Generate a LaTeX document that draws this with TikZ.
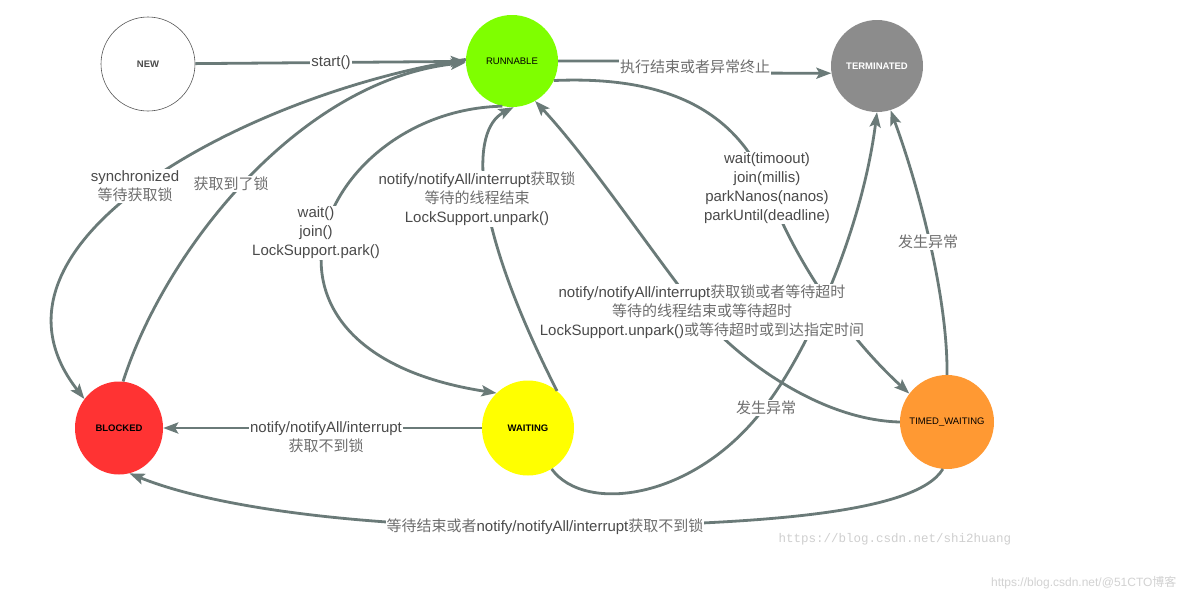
\documentclass[tikz,border=0pt]{standalone}
\usepackage{fontspec}
\setmainfont{Liberation Sans}
\newfontfamily\cjk{Noto Sans CJK SC}
\newfontfamily\wmono{Liberation Mono}
\usetikzlibrary{arrows.meta,shapes.geometric}
\definecolor{edgec}{HTML}{6A7A78}
\definecolor{labc}{HTML}{4A4A4A}
\definecolor{zhc}{HTML}{6E6E6E}
\definecolor{newborder}{HTML}{555555}
\definecolor{runc}{RGB}{127,255,0}
\definecolor{termc}{RGB}{140,140,140}
\definecolor{blockc}{RGB}{255,51,51}
\definecolor{waitc}{RGB}{255,255,0}
\definecolor{timedc}{RGB}{255,153,51}
\definecolor{wmone}{HTML}{CFCFCF}
\definecolor{wmtwo}{HTML}{D2D2D2}
\newcommand\zhtxt[1]{{\cjk\color{zhc}#1}}
\begin{document}
\begin{tikzpicture}[x=1pt,y=-1pt,
  state/.style={circle, minimum size=92pt, inner sep=0pt, text=black,
    font=\fontsize{9.5}{11}\selectfont},
  edge/.style={draw=edgec, line width=2.8pt,
    -{Stealth[length=15pt,width=11pt,inset=3pt]}},
  lab/.style={fill=white, inner sep=1pt, align=center, text=labc,
    font=\fontsize{15}{19}\selectfont},
]
\useasboundingbox (0,0) rectangle (1184,598);
\fill[white] (0,0) rectangle (1184,598);

% states
\node[state, draw=newborder, line width=0.6pt, fill=white, minimum size=94pt,
  text=labc, font=\fontsize{9.5}{11}\selectfont\bfseries] (new) at (148,64) {NEW};
\node[state, fill=runc] (runnable) at (512,61) {RUNNABLE};
\node[state, fill=termc, text=white, font=\fontsize{9.5}{11}\selectfont\bfseries] (terminated) at (877,66) {TERMINATED};
\node[state, ellipse, fill=blockc, minimum width=88pt, minimum height=93pt,
  font=\fontsize{9.5}{11}\selectfont\bfseries] (blocked) at (119,428) {BLOCKED};
\node[state, ellipse, fill=waitc, minimum width=92pt, minimum height=95pt,
  font=\fontsize{9.5}{11}\selectfont\bfseries] (waiting) at (528,428) {WAITING};
\node[state, fill=timedc, minimum size=94pt] (timed) at (947,422) {TIMED\_WAITING};

% connectors
\draw[edge] (new) -- (runnable);
\draw[edge] (runnable.east) -- (695,61) -- (695,73) -- (terminated.189);
\draw[edge] (blocked.85) .. controls (165,250) and (300,80) .. (runnable.182);
\draw[edge] (runnable.178) .. controls (260,90) and (-40,240) .. (blocked.140);
\draw[edge] (runnable.258) .. controls (320,110) and (215,350) .. (waiting.132);
\draw[edge] (waiting.52) .. controls (470,220) and (470,130) .. (runnable.272);
\draw[edge] (runnable.-25) .. controls (680,75) and (740,120) .. (768,188)
  .. controls (790,250) and (840,330) .. (timed.143);
\draw[edge] (timed.180) .. controls (820,420) and (740,360) .. (702,316)
  .. controls (650,250) and (590,160) .. (runnable.300);
\draw[edge] (waiting.-60) .. controls (585,515) and (700,500) .. (770,400)
  .. controls (810,345) and (862,230) .. (terminated.270);
\draw[edge] (timed.90) .. controls (948,300) and (920,190) .. (terminated.-73);
\draw[edge] (waiting) -- (blocked);
\draw[edge] (timed.265) .. controls (915,515) and (750,525) .. (545,527)
  .. controls (380,528) and (220,510) .. (blocked.-77);

% labels
\node[lab] (lstart) at (331,63) {start()};
\node[lab] (lterm) at (695,67) {\zhtxt{执行结束或者异常终止}};
\node[lab] (lsync) at (135,186) {synchronized\\\zhtxt{等待获取锁}};
\node[lab] (lgot) at (231,184) {\zhtxt{获取到了锁}};
\node[lab] (lwait) at (316,233) {wait()\\join()\\LockSupport.park()};
\node[lab] (lnotify) at (477,199) {notify/notifyAll/interrupt\zhtxt{获取锁}\\\zhtxt{等待的线程结束}\\LockSupport.unpark()};
\node[lab] (ltwait) at (767,188) {wait(timoout)\\join(millis)\\parkNanos(nanos)\\parkUntil(deadline)};
\node[lab] (ltnotify) at (702,312) {notify/notifyAll/interrupt\zhtxt{获取锁或者等待超时}\\\zhtxt{等待的线程结束或等待超时}\\LockSupport.unpark()\zhtxt{或等待超时或到达指定时间}};
\node[lab] (lexc1) at (766,408) {\zhtxt{发生异常}};
\node[lab] (lexc2) at (928,242) {\zhtxt{发生异常}};
\node[lab] (lwb) at (326,437) {notify/notifyAll/interrupt\\\zhtxt{获取不到锁}};
\node[lab] (ltb) at (545,527) {\zhtxt{等待结束或者}notify/notifyAll/interrupt\zhtxt{获取不到锁}};

% watermarks
\node[text=wmone, font=\wmono\fontsize{12.5}{14}\selectfont] (wm1) at (895,539) {https://blog.csdn.net/shi2huang};
\node[text=wmtwo, font=\fontsize{12}{14}\selectfont, anchor=east] (wm2) at (1180,583) {https://blog.csdn.net/@51CTO{\cjk 博客}};
\end{tikzpicture}
\end{document}
